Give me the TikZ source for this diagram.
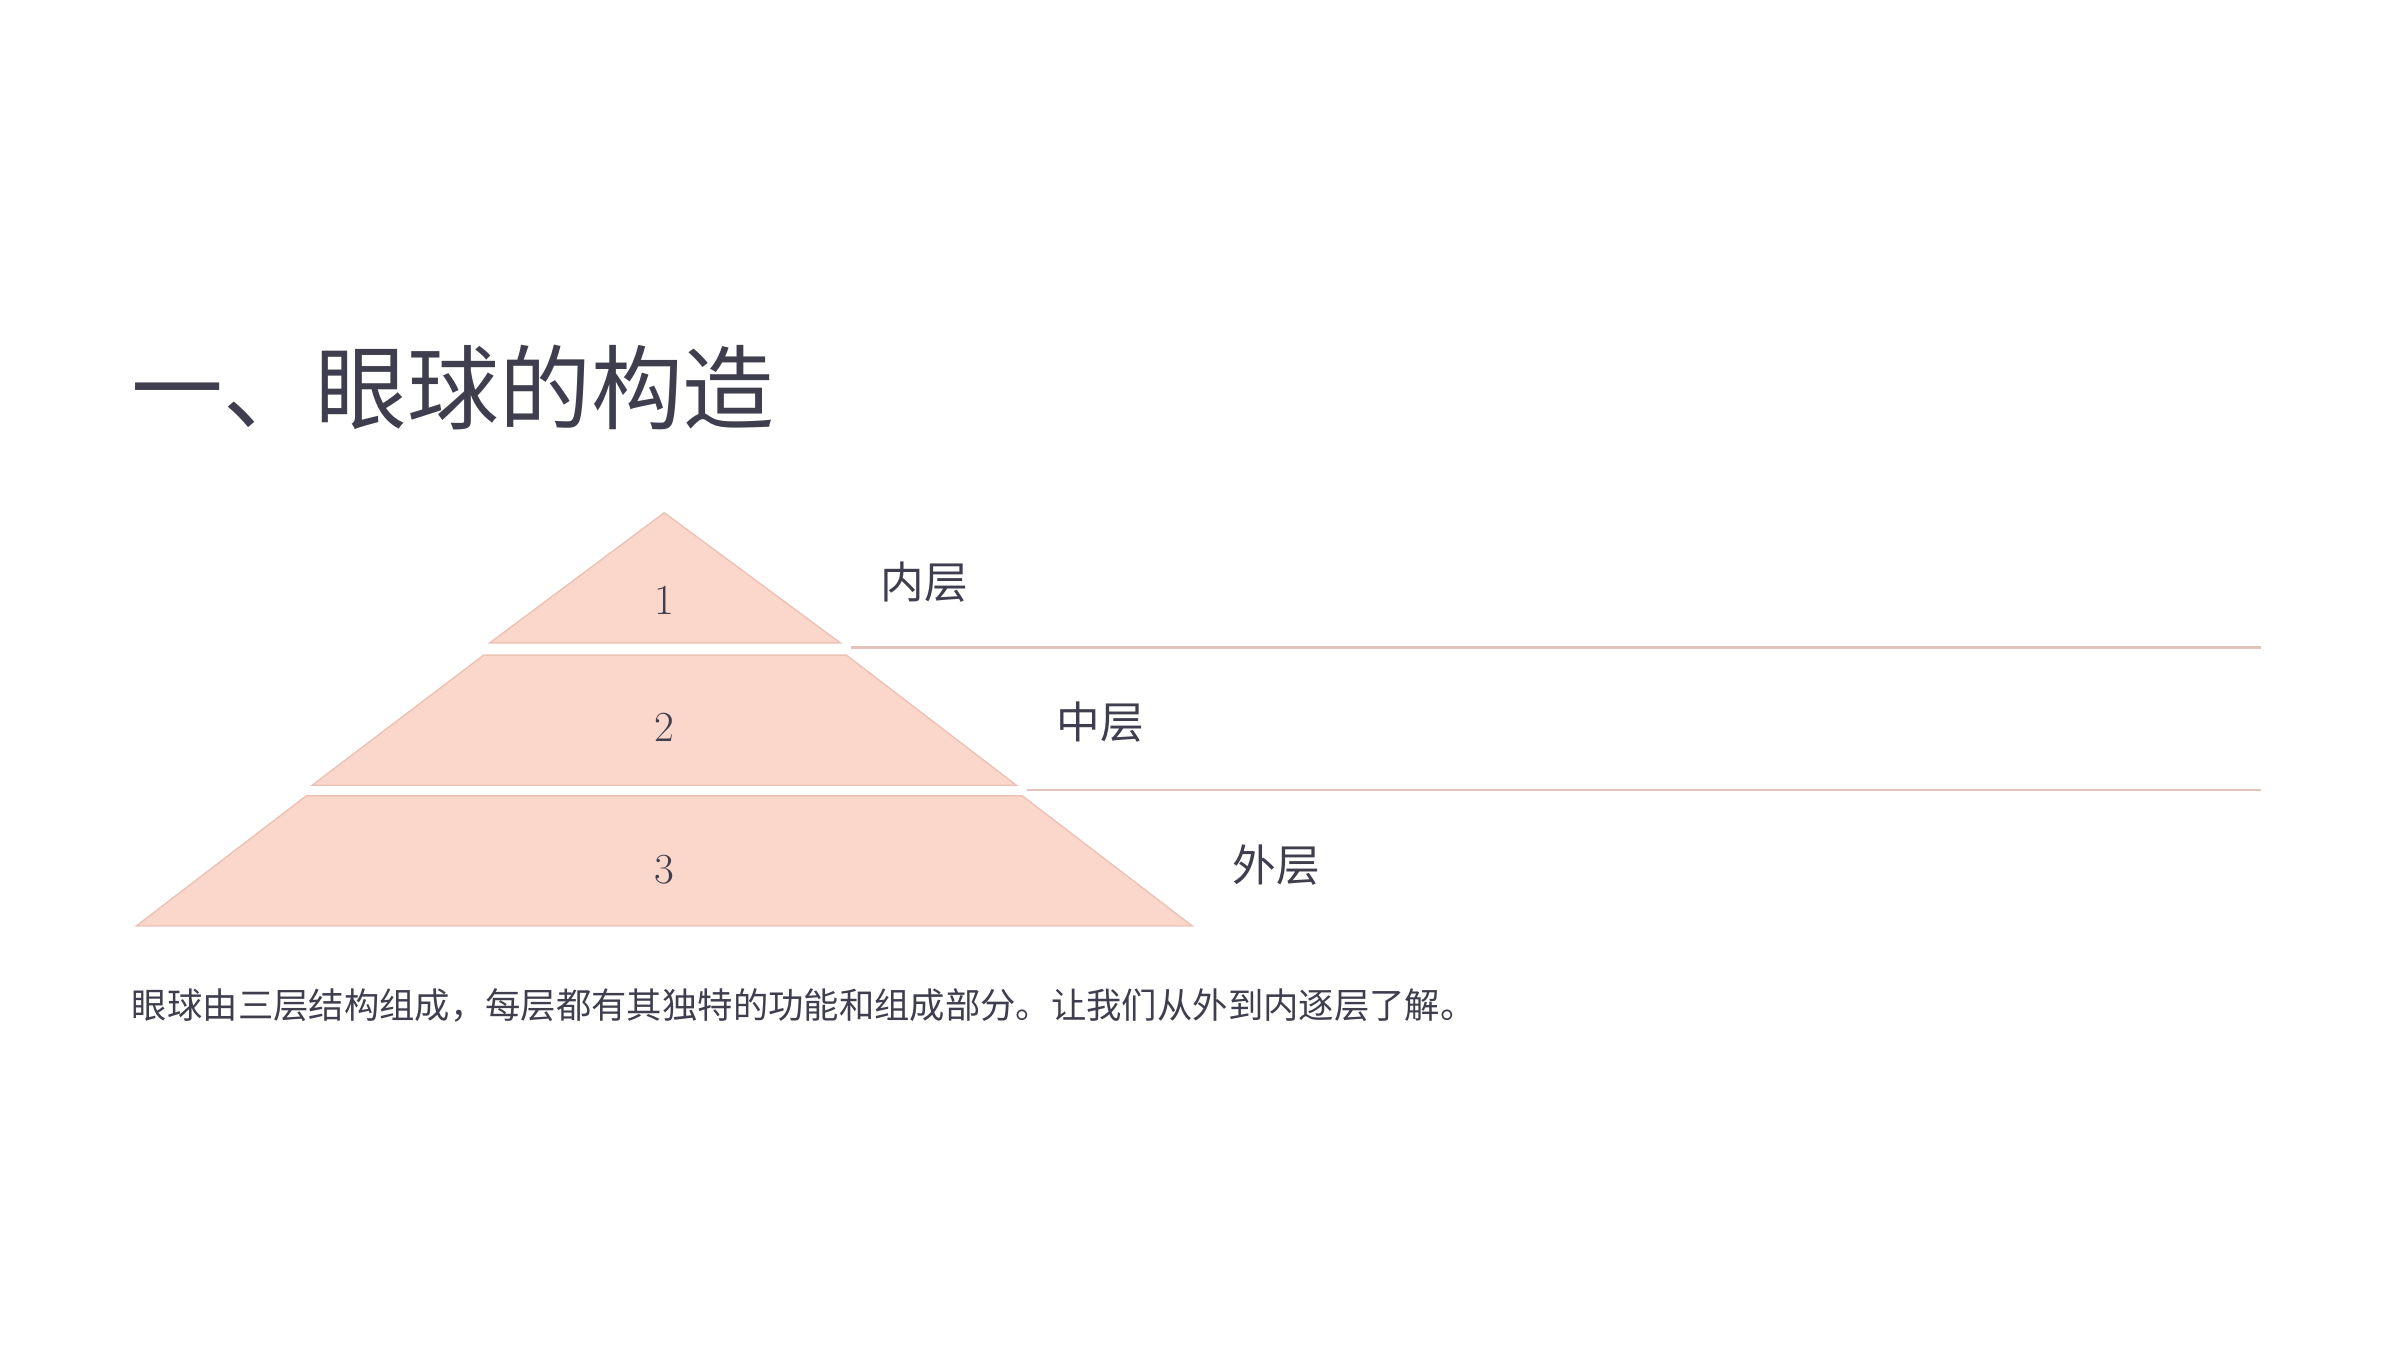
\documentclass[tikz,border=0pt]{standalone}
\usepackage{fontspec}
\newfontfamily\cjk{Noto Sans CJK SC}
\definecolor{peach}{RGB}{251,214,202}
\definecolor{peachedge}{RGB}{236,194,181}
\definecolor{sepline}{RGB}{228,196,186}
\definecolor{ink}{RGB}{62,62,78}
\tikzset{
  tier/.style={fill=peach, draw=peachedge, line width=0.9pt, line join=miter},
  sepl/.style={draw=sepline, line width=1.4pt},
  num/.style={text=ink, font=\fontsize{28}{32}\selectfont, inner sep=0pt},
  lbl/.style={text=ink, font=\cjk\fontsize{28.5}{32}\selectfont, inner sep=0pt},
}
\begin{document}
\begin{tikzpicture}[x=1pt,y=-1pt]
\useasboundingbox (0,0) rectangle (1568,882);
\fill[white] (0,0) rectangle (1568,882);
% title
\node[anchor=west, inner sep=0pt, text=ink, font=\cjk\fontsize{60}{66}\selectfont] (title) at (86,253) {一、眼球的构造};
% pyramid tiers
\draw[tier] (434,335) -- (549,420) -- (320,420) -- cycle;
\draw[tier] (316,428) -- (553,428) -- (664,513) -- (204,513) -- cycle;
\draw[tier] (200,520) -- (668,520) -- (779,605) -- (89,605) -- cycle;
% numbers
\node[num] (n1) at (434,392) {1};
\node[num] (n2) at (434,475) {2};
\node[num] (n3) at (434,568) {3};
% separator lines
\coordinate (s1a) at (556,423);
\coordinate (s1b) at (1477,423);
\coordinate (s2a) at (671,516);
\coordinate (s2b) at (1477,516);
\draw[sepl] (s1a) -- (s1b);
\draw[sepl] (s2a) -- (s2b);
% labels
\node[lbl] (l1) at (604,380) {内层};
\node[lbl] (l2) at (719,472) {中层};
\node[lbl] (l3) at (834,565) {外层};
% description
\node[anchor=west, inner sep=0pt, text=ink, font=\cjk\fontsize{23.1}{28}\selectfont] (desc) at (86,657) {眼球由三层结构组成，每层都有其独特的功能和组成部分。让我们从外到内逐层了解。};
\end{tikzpicture}
\end{document}
